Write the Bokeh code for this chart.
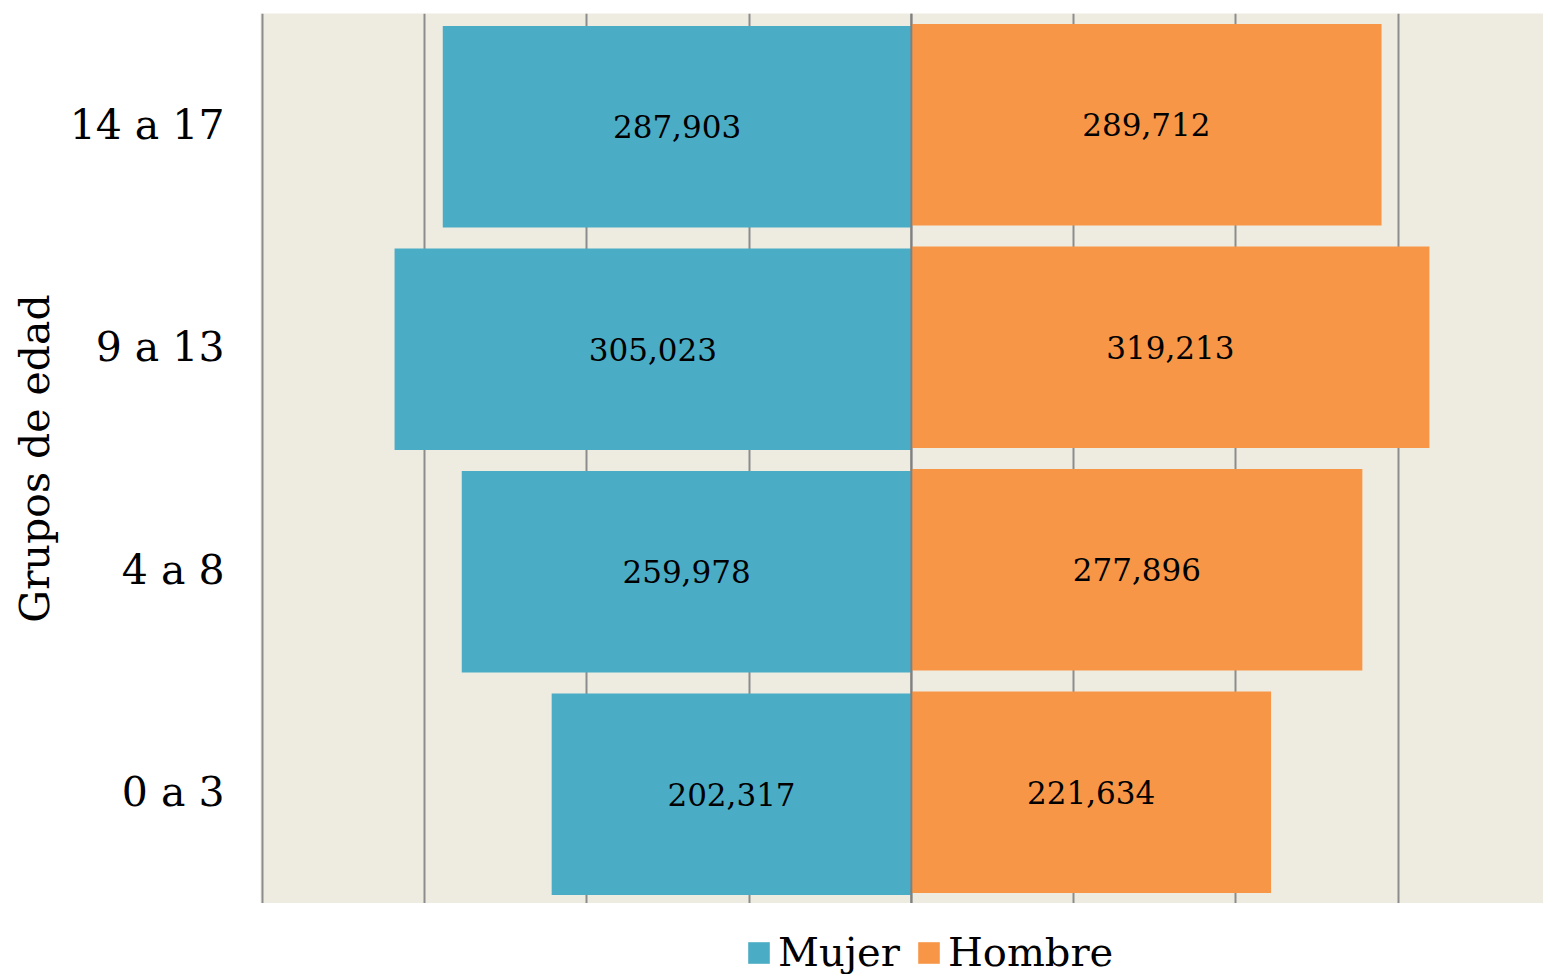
from bokeh.plotting import figure
from bokeh.models import ColumnDataSource, FixedTicker, Legend, LegendItem, Span, FactorRange, Range1d
from bokeh.layouts import column
from bokeh.transform import dodge
from bokeh.core.properties import value
from bokeh.embed import file_html
from bokeh.resources import INLINE

# Data (bottom to top)
grupos = ["0 a 3", "4 a 8", "9 a 13", "14 a 17"]
mujer = [202317, 259978, 305023, 287903]          # labelled values
mujer_barra = [221600, 277000, 318400, 288700]    # drawn bar lengths
hombre = [221634, 277896, 319213, 289712]
x_ticks = [-400000, -300000, -200000, -100000, 0, 100000, 200000, 300000, 400000]
series = ["Mujer", "Hombre"]

fmt = lambda v: f"{v:,}"

src = ColumnDataSource(dict(
    grupo=grupos,
    mujer_neg=[-v for v in mujer_barra],
    mujer_mid=[-v / 2 for v in mujer_barra],
    mujer_txt=[fmt(v) for v in mujer],
    hombre=hombre,
    hombre_mid=[v / 2 for v in hombre],
    hombre_txt=[fmt(v) for v in hombre],
))

FONT = "DejaVu Serif"
TEAL = "#4BACC6"
ORANGE = "#F79646"

p = figure(width=1543, height=903, y_range=FactorRange(*grupos),
           x_range=(-401000, 389500), output_backend="svg", toolbar_location=None,
           min_border_left=260, min_border_right=0, min_border_top=13, min_border_bottom=0)

p.background_fill_color = "#EEECE1"
p.border_fill_color = "white"
p.outline_line_color = None

p.hbar(y=dodge("grupo", -0.009, range=p.y_range), left="mujer_neg", right=0, height=0.905,
       source=src, fill_color=TEAL, line_color=None)
p.hbar(y="grupo", left=0, right="hombre", height=0.905,
       source=src, fill_color=ORANGE, line_color=None)

p.text(x="mujer_mid", y=dodge("grupo", -0.009, range=p.y_range), text="mujer_txt", source=src,
       text_align="center", text_baseline="middle", text_font=value(FONT),
       text_font_size="31px", text_color="black")
p.text(x="hombre_mid", y="grupo", text="hombre_txt", source=src,
       text_align="center", text_baseline="middle", text_font=value(FONT),
       text_font_size="31px", text_color="black")

p.add_layout(Span(location=0, dimension="height", line_color="#808080", line_width=2))

p.xaxis.visible = False
p.xgrid.ticker = FixedTicker(ticks=x_ticks)
p.xgrid.grid_line_color = "#8C8C8C"
p.xgrid.grid_line_width = 2
p.ygrid.visible = False

ya = p.yaxis[0]
ya.axis_line_color = None
ya.major_tick_line_color = None
ya.minor_tick_line_color = None
ya.major_tick_out = 0
ya.major_tick_in = 0
ya.major_label_standoff = 36
ya.major_label_text_font = FONT
ya.major_label_text_font_size = "41px"
ya.major_label_text_color = "black"
ya.axis_label = "Grupos de edad"
ya.axis_label_text_font = FONT
ya.axis_label_text_font_size = "41px"
ya.axis_label_text_font_style = "normal"
ya.axis_label_text_color = "black"
ya.axis_label_standoff = 8

# Legend strip below the chart (its frame aligns with the chart frame)
q = figure(width=1543, height=100, x_range=Range1d(0, 1), y_range=Range1d(0, 1),
           output_backend="svg", toolbar_location=None,
           min_border_left=260, min_border_right=0, min_border_top=0, min_border_bottom=0)
q.xaxis.visible = False
q.yaxis.visible = False
q.grid.visible = False
q.outline_line_color = None
q.background_fill_color = "white"
q.border_fill_color = "white"
lm = q.hbar(y=[5], left=[4], right=[5], height=0.5, fill_color=TEAL, line_color=None)
lh = q.hbar(y=[5], left=[4], right=[5], height=0.5, fill_color=ORANGE, line_color=None)

legend = Legend(items=[LegendItem(label=series[0], renderers=[lm]),
                       LegendItem(label=series[1], renderers=[lh])],
                orientation="horizontal", location=(485, 28),
                label_text_font=FONT, label_text_font_size="40px", label_text_color="black",
                glyph_width=27, glyph_height=27, label_standoff=6, spacing=15,
                padding=0, margin=0, border_line_color=None, background_fill_alpha=0)
q.add_layout(legend, "center")

open("out.html", "w").write(file_html(column(p, q), INLINE))
